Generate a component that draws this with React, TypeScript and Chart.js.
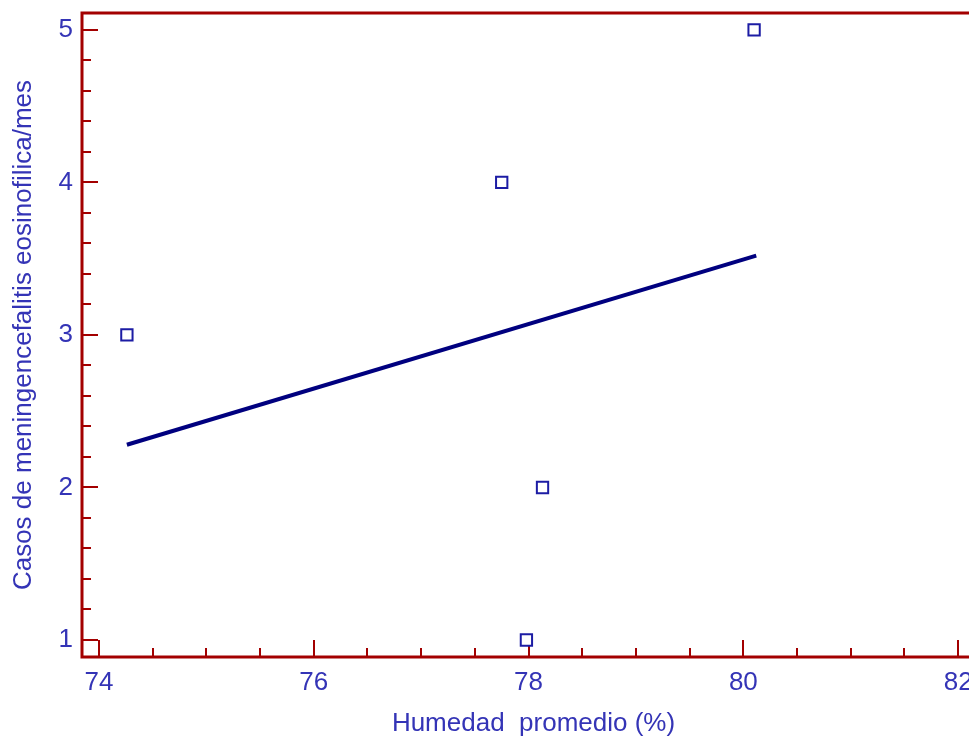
import React, { useEffect, useRef } from 'react';
import { Chart, registerables } from 'chart.js';

Chart.register(...registerables);

// ---- data ----
const humidity = [74.26, 77.75, 78.13, 77.98, 80.1];
const cases = [3, 4, 2, 1, 5];
const fitX = [74.26, 80.12];
const fitY = [2.28, 3.52];
const xTickValues = [74, 76, 78, 80, 82];
const yTickValues = [1, 2, 3, 4, 5];
const xMinorStep = 0.5;
const yMinorStep = 0.2;
const xTitle = 'Humedad  promedio (%)';
const yTitle = 'Casos de meningencefalitis eosinofilica/mes';

const RED = '#a30000';
const TEXT = '#3434b6';
const FONT = "'Liberation Sans', Arial, sans-serif";

const isMajor = (list: number[], v: number) => list.some((t) => Math.abs(t - v) < 1e-6);

const framePlugin = {
  id: 'frame',
  beforeDatasetsDraw(chart: any) {
    const { ctx, chartArea: a, scales } = chart;
    const xs = scales.x;
    const ys = scales.y;
    ctx.save();
    ctx.strokeStyle = RED;
    ctx.lineWidth = 2;
    ctx.beginPath();
    const x0 = Math.ceil(xs.min / xMinorStep - 1e-9) * xMinorStep;
    for (let i = 0; ; i++) {
      const v = x0 + i * xMinorStep;
      if (v > xs.max + 1e-9) break;
      const px = Math.round(xs.getPixelForValue(v));
      const len = isMajor(xTickValues, v) ? 17 : 9;
      ctx.moveTo(px, a.bottom);
      ctx.lineTo(px, a.bottom - len);
    }
    const y0 = Math.ceil(ys.min / yMinorStep - 1e-9) * yMinorStep;
    for (let i = 0; ; i++) {
      const v = y0 + i * yMinorStep;
      if (v > ys.max + 1e-9) break;
      const py = Math.round(ys.getPixelForValue(v));
      const len = isMajor(yTickValues, v) ? 16 : 9;
      ctx.moveTo(a.left, py);
      ctx.lineTo(a.left + len, py);
    }
    ctx.stroke();
    ctx.lineWidth = 3;
    ctx.strokeRect(a.left, a.top, a.right - a.left, a.bottom - a.top);
    ctx.restore();
  },
};

export default function App() {
  const ref = useRef<HTMLCanvasElement | null>(null);

  useEffect(() => {
    if (!ref.current) return;
    const chart = new Chart(ref.current, {
      type: 'scatter',
      data: {
        datasets: [
          {
            label: 'fit',
            data: fitX.map((x, i) => ({ x, y: fitY[i] })),
            showLine: true,
            borderColor: '#00007f',
            borderWidth: 4,
            pointRadius: 0,
            order: 2,
          },
          {
            label: 'casos',
            data: humidity.map((x, i) => ({ x, y: cases[i] })),
            pointStyle: 'rect',
            pointRadius: 8,
            borderWidth: 2,
            borderColor: '#1c1ca4',
            backgroundColor: '#ffffff',
            order: 1,
          },
        ],
      },
      options: {
        responsive: false,
        animation: false,
        events: [],
        layout: { padding: { left: 0, top: 13, right: 10, bottom: 0 } },
        plugins: { legend: { display: false }, tooltip: { enabled: false } },
        scales: {
          x: {
            type: 'linear',
            min: 73.842,
            max: 82.25,
            grid: { display: false, drawTicks: false, tickLength: 0 },
            border: { display: false },
            afterBuildTicks: (s: any) => {
              s.ticks = xTickValues.map((v) => ({ value: v }));
            },
            afterFit: (s: any) => {
              s.height = 83;
              s.paddingLeft = 0;
              s.paddingRight = 0;
            },
            ticks: {
              color: TEXT,
              font: { family: FONT, size: 26 },
              padding: 10,
              maxRotation: 0,
              autoSkip: false,
            },
            title: {
              display: true,
              text: xTitle,
              color: TEXT,
              font: { family: FONT, size: 26 },
              padding: { top: 9, bottom: 1 },
            },
          },
          y: {
            type: 'linear',
            min: 0.8885,
            max: 5.111,
            grid: { display: false, drawTicks: false, tickLength: 0 },
            border: { display: false },
            afterBuildTicks: (s: any) => {
              s.ticks = yTickValues.map((v) => ({ value: v }));
            },
            afterFit: (s: any) => {
              s.width = 82;
              s.paddingTop = 0;
              s.paddingBottom = 0;
            },
            ticks: {
              color: TEXT,
              font: { family: FONT, size: 26 },
              padding: 9,
              autoSkip: false,
            },
            title: {
              display: true,
              text: yTitle,
              color: TEXT,
              font: { family: FONT, size: 26 },
              padding: { top: 8, bottom: 10 },
            },
          },
        },
      },
      plugins: [framePlugin],
    });
    return () => chart.destroy();
  }, []);

  return (
    <div
      style={{
        position: 'fixed',
        left: 0,
        top: 0,
        width: 969,
        height: 740,
        overflow: 'hidden',
        background: '#ffffff',
      }}
    >
      <canvas ref={ref} width={995} height={740} style={{ display: 'block' }} />
    </div>
  );
}
